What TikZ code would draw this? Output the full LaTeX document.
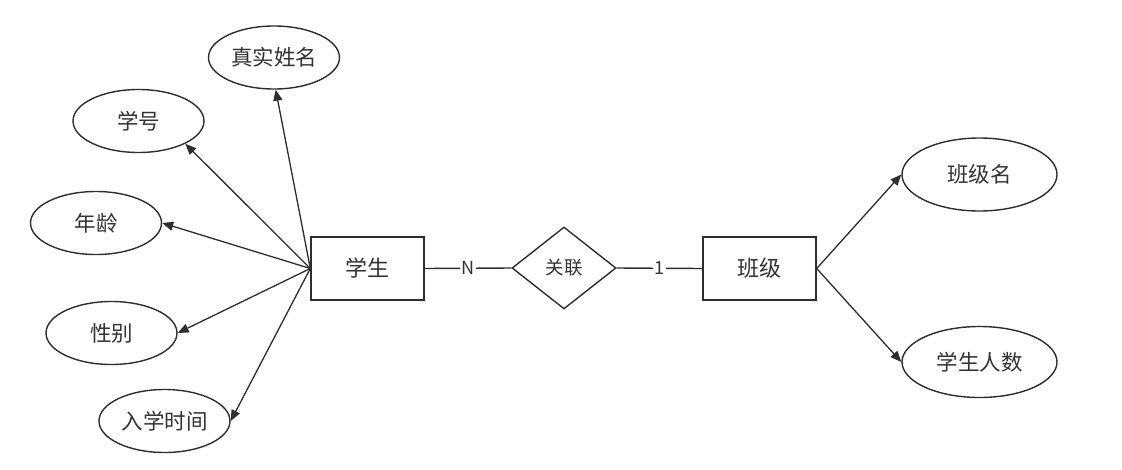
\documentclass[tikz,border=0pt]{standalone}
\usepackage{fontspec}
\setmainfont{Noto Sans CJK SC}
\usetikzlibrary{shapes.geometric,arrows.meta}
\definecolor{ln}{HTML}{2E2E2E}
\definecolor{tx}{HTML}{333333}
\tikzset{
  ent/.style={draw=ln, line width=1.4pt, rectangle, minimum width=113pt, minimum height=63pt, inner sep=0pt, text=tx, font=\fontsize{22}{26}\selectfont},
  rel/.style={draw=ln, line width=1.4pt, diamond, minimum width=104pt, minimum height=82pt, inner sep=0pt, text=tx, font=\fontsize{18.5}{22}\selectfont},
  attr/.style={draw=ln, line width=1.4pt, ellipse, minimum width=131pt, minimum height=63pt, inner sep=0pt, text=tx, font=\fontsize{21.5}{25}\selectfont},
  attrb/.style={attr, minimum width=155pt, minimum height=73pt},
  arr/.style={draw=ln, line width=1.3pt, -{Triangle[length=11pt,width=9pt]}},
  conn/.style={draw=ln, line width=1.4pt},
  card/.style={fill=white, inner sep=1.5pt, text=tx, font=\fontsize{18}{21}\selectfont},
}
\begin{document}
\begin{tikzpicture}[x=1pt,y=-1pt]
\useasboundingbox[fill=white] (0,0) rectangle (1122,469);
% entities and relation
\node[ent] (stu) at (367.5,268.5) {学生};
\node[rel] (rel) at (564,268) {关联};
\node[ent] (cls) at (759.5,268.5) {班级};
% student attributes
\node[attr] (name) at (274,57.5) {真实姓名};
\node[attr] (sno) at (138.5,121) {学号};
\node[attr] (age) at (96,223) {年龄};
\node[attr] (sex) at (111.5,333) {性别};
\node[attr] (enr) at (164.5,421) {入学时间};
% class attributes
\node[attrb] (cname) at (979.5,174.5) {班级名};
\node[attrb, minimum height=71pt] (cnum) at (979.5,362) {学生人数};
% connectors
\draw[conn] (stu.east) -- node[card] {N} (rel.west);
\draw[conn] (rel.east) -- node[card] {1} (cls.west);
\draw[arr] (stu.west) -- (name.-87);
\draw[arr] (stu.west) -- (sno.south east);
\draw[arr] (stu.west) -- (age.east);
\draw[arr] (stu.west) -- (sex.east);
\draw[arr] (stu.west) -- (enr.east);
\draw[arr] (cls.east) -- (cname.west);
\draw[arr] (cls.east) -- (cnum.west);
\end{tikzpicture}
\end{document}
